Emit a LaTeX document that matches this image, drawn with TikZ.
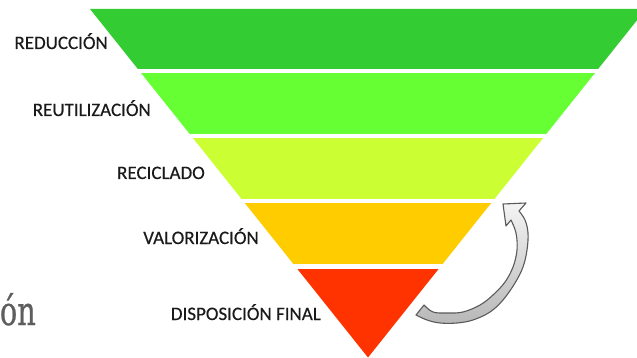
\documentclass[tikz,border=0pt]{standalone}
\usepackage{fontspec}
\setmainfont[FakeBold=0.4]{Carlito}
\newfontfamily\slabfont[FakeBold=0.8]{DejaVu Serif}
\definecolor{bandA}{HTML}{33CC33}
\definecolor{bandB}{HTML}{66FF33}
\definecolor{bandC}{HTML}{CCFF33}
\definecolor{bandD}{HTML}{FFCC00}
\definecolor{bandE}{HTML}{FF3300}
\definecolor{labeltext}{HTML}{1A1A1A}
\definecolor{slabgray}{HTML}{5E5E5E}
\definecolor{arrowline}{HTML}{5A5A5A}
\definecolor{arrowtop}{HTML}{F4F4F4}
\definecolor{arrowbottom}{HTML}{B8B8B8}
\begin{document}
\begin{tikzpicture}[x=1pt,y=-1pt,
  levellabel/.style={font=\fontsize{19}{19}\selectfont, text=labeltext, anchor=base east, inner sep=0pt},
  curvedarrow/.style={draw=arrowline, line width=1.1pt, line join=round, top color=arrowtop, bottom color=arrowbottom}]
\useasboundingbox (0,0) rectangle (637,358);
\clip (0,0) rectangle (637,358);
\fill[white] (0,0) rectangle (637,358);
\coordinate (TL) at (90,9);
\coordinate (TR) at (646,9);
\coordinate (AP) at (368,357.5);
\foreach \ya/\yb/\col in {9/69/bandA, 73.3/134/bandB, 138.3/198.3/bandC, 204/263.3/bandD, 269.3/360/bandE} {
  \begin{scope}
    \clip (0,\ya) rectangle (637,\yb);
    \fill[\col] (TL) -- (TR) -- (AP) -- cycle;
  \end{scope}
}
\node[levellabel] (reduccion) at (108,49) {REDUCCIÓN};
\node[levellabel] (reutilizacion) at (151,116) {REUTILIZACIÓN};
\node[levellabel] (reciclado) at (205,179) {RECICLADO};
\node[levellabel] (valorizacion) at (259,244) {VALORIZACIÓN};
\node[levellabel] (disposicion) at (321,320) {DISPOSICIÓN FINAL};
\node[anchor=base east, inner sep=0pt, text=slabgray] (onfrag) at (36,325)
  {\scalebox{0.72}[1]{\slabfont\fontsize{40}{40}\selectfont ón}};
\path[curvedarrow]
  plot[smooth, tension=0.6] coordinates {(416,315) (427,320) (440,323) (457,323) (473,320) (490,312) (503,300) (515,283) (523,267) (527,250) (528,233) (525,220) (519,211)}
  -- (526,203) -- (503,204) -- (506,226)
  -- plot[smooth, tension=0.6] coordinates {(511,220) (516,233) (517,250) (513,267) (505,282) (493,295) (480,305) (463,312) (447,313) (433,312) (424,305)}
  -- cycle;
\end{tikzpicture}
\end{document}
